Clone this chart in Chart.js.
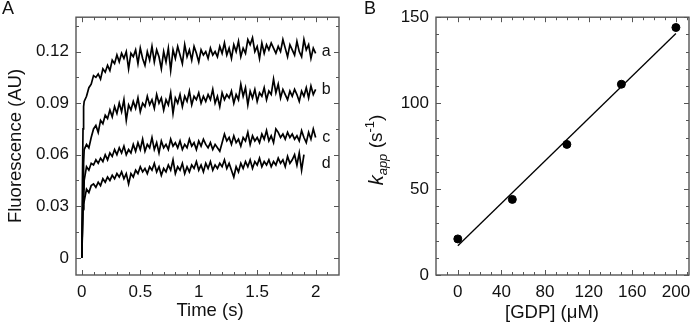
<!DOCTYPE html>
<html>
<head>
<meta charset="utf-8">
<script src="https://cdn.jsdelivr.net/npm/chart.js@4.4.1/dist/chart.umd.min.js"></script>
<style>
  html, body { margin: 0; padding: 0; background: #fff; }
  #wrap { position: relative; width: 700px; height: 325px; }
  canvas { position: absolute; top: 0; }
  #panelA { left: 0; }
  #panelB { left: 350px; }
</style>
</head>
<body>
<div id="wrap">
  <canvas id="panelA" width="350" height="325"></canvas>
  <canvas id="panelB" width="350" height="325"></canvas>
</div>
<script>
// ---- panel A : fluorescence traces ----
const times = [
  0, 0.005, 0.01, 0.015,
  0.02, 0.04, 0.06, 0.08, 0.10, 0.12, 0.14, 0.16, 0.18, 0.20,
  0.22, 0.24, 0.26, 0.28, 0.30, 0.32, 0.34, 0.36, 0.38, 0.40,
  0.42, 0.44, 0.46, 0.48, 0.50, 0.52, 0.54, 0.56, 0.58, 0.60,
  0.62, 0.64, 0.66, 0.68, 0.70, 0.72, 0.74, 0.76, 0.78, 0.80,
  0.82, 0.84, 0.86, 0.88, 0.90, 0.92, 0.94, 0.96, 0.98, 1.00,
  1.02, 1.04, 1.06, 1.08, 1.10, 1.12, 1.14, 1.16, 1.18, 1.20,
  1.22, 1.24, 1.26, 1.28, 1.30, 1.32, 1.34, 1.36, 1.38, 1.40,
  1.42, 1.44, 1.46, 1.48, 1.50, 1.52, 1.54, 1.56, 1.58, 1.60,
  1.62, 1.64, 1.66, 1.68, 1.70, 1.72, 1.74, 1.76, 1.78, 1.80,
  1.82, 1.84, 1.86, 1.88, 1.90, 1.92, 1.94, 1.96, 1.98, 2.00
];

const traceA = [
  0, 0.045, 0.075, 0.088,
  0.091, 0.094, 0.099, 0.101, 0.106, 0.105, 0.107, 0.104, 0.110, 0.108,
  0.112, 0.109, 0.115, 0.113, 0.118, 0.114, 0.119, 0.116, 0.120, 0.110,
  0.119, 0.117, 0.121, 0.113, 0.122, 0.116, 0.112, 0.120, 0.115, 0.123,
  0.114, 0.121, 0.117, 0.110, 0.120, 0.114, 0.122, 0.109, 0.121, 0.116,
  0.123, 0.118, 0.113, 0.124, 0.117, 0.121, 0.115, 0.123, 0.119, 0.114,
  0.121, 0.118, 0.120, 0.116, 0.122, 0.118, 0.120, 0.117, 0.123, 0.119,
  0.125, 0.118, 0.122, 0.116, 0.124, 0.120, 0.126, 0.117, 0.122, 0.119,
  0.127, 0.124, 0.128, 0.120, 0.123, 0.116, 0.125, 0.119, 0.124, 0.121,
  0.125, 0.122, 0.119, 0.123, 0.120, 0.127, 0.122, 0.117, 0.124, 0.121,
  0.118, 0.126, 0.120, 0.117, 0.127, 0.121, 0.124, 0.116, 0.122, 0.119
];

const traceB = [
  0, 0.020, 0.040, 0.055,
  0.063, 0.066, 0.064, 0.070, 0.075, 0.077, 0.073, 0.080, 0.078, 0.083,
  0.081, 0.086, 0.082, 0.088, 0.084, 0.090, 0.085, 0.092, 0.080, 0.089,
  0.086, 0.091, 0.087, 0.093, 0.085, 0.090, 0.088, 0.094, 0.089, 0.092,
  0.087, 0.095, 0.090, 0.093, 0.086, 0.092, 0.089, 0.096, 0.084, 0.093,
  0.090, 0.095, 0.088, 0.094, 0.091, 0.097, 0.089, 0.094, 0.092, 0.096,
  0.090, 0.094, 0.091, 0.095, 0.092, 0.098, 0.090, 0.094, 0.088, 0.096,
  0.092, 0.095, 0.093, 0.097, 0.090, 0.095, 0.092, 0.101, 0.094, 0.099,
  0.089, 0.097, 0.093, 0.098, 0.091, 0.096, 0.094, 0.099, 0.092, 0.097,
  0.095, 0.104, 0.096, 0.101, 0.093, 0.098, 0.095, 0.092, 0.097, 0.094,
  0.098, 0.095, 0.091, 0.097, 0.094, 0.099, 0.093, 0.100, 0.095, 0.098
];

const traceC = [
  0, 0.018, 0.035, 0.028,
  0.045, 0.053, 0.051, 0.055, 0.054, 0.057, 0.055, 0.058, 0.056, 0.060,
  0.057, 0.061, 0.059, 0.063, 0.060, 0.064, 0.061, 0.065, 0.060, 0.063,
  0.061, 0.066, 0.062, 0.067, 0.063, 0.069, 0.062, 0.066, 0.064, 0.070,
  0.063, 0.067, 0.061, 0.068, 0.064, 0.066, 0.063, 0.069, 0.065, 0.067,
  0.064, 0.068, 0.063, 0.066, 0.064, 0.069, 0.065, 0.067, 0.063, 0.068,
  0.065, 0.069, 0.066, 0.064, 0.067, 0.063, 0.066, 0.064, 0.062, 0.067,
  0.072, 0.068, 0.070, 0.066, 0.071, 0.067, 0.069, 0.065, 0.070, 0.068,
  0.073, 0.066, 0.071, 0.068, 0.070, 0.067, 0.072, 0.069, 0.074, 0.068,
  0.071, 0.067, 0.075, 0.073, 0.070, 0.072, 0.069, 0.073, 0.070, 0.072,
  0.069, 0.071, 0.068, 0.074, 0.070, 0.067, 0.073, 0.069, 0.075, 0.070
];

// trace d stops at 1.90 s
const traceD = [
  0, 0.015, 0.028, 0.036,
  0.033, 0.040, 0.038, 0.042, 0.043, 0.041, 0.044, 0.042, 0.046, 0.044,
  0.047, 0.045, 0.048, 0.046, 0.049, 0.047, 0.050, 0.046, 0.049, 0.043,
  0.049, 0.047, 0.051, 0.049, 0.053, 0.050, 0.052, 0.049, 0.053, 0.051,
  0.055, 0.050, 0.053, 0.048, 0.052, 0.050, 0.054, 0.051, 0.057, 0.049,
  0.053, 0.051, 0.055, 0.049, 0.053, 0.050, 0.054, 0.052, 0.056, 0.051,
  0.054, 0.050, 0.055, 0.052, 0.056, 0.051, 0.054, 0.052, 0.055, 0.053,
  0.057, 0.052, 0.055, 0.051, 0.047, 0.053, 0.050, 0.055, 0.052, 0.056,
  0.053, 0.057, 0.052, 0.056, 0.054, 0.058, 0.053, 0.056, 0.054, 0.057,
  0.053, 0.056, 0.054, 0.058, 0.055, 0.057, 0.053, 0.059, 0.055, 0.057,
  0.060, 0.054, 0.061, 0.051, 0.060
];

const traceNames = ['a', 'b', 'c', 'd'];
const traceLabelY = [0.120, 0.098, 0.070, 0.055];

const xTicksA = [0, 0.5, 1, 1.5, 2];
const xLabelsA = ['0', '0.5', '1', '1.5', '2'];
const yTicksA = [0, 0.03, 0.06, 0.09, 0.12];
const yLabelsA = ['0', '0.03', '0.06', '0.09', '0.12'];

// ---- panel B : kapp vs [GDP] ----
const gdp = [0, 50, 100, 150, 200];
const kapp = [21, 44, 76, 111, 144];
const fitX = [0, 200];
const fitY = [17, 140.5];

const xTicksB = [0, 40, 80, 120, 160, 200];
const xLabelsB = ['0', '40', '80', '120', '160', '200'];
const yTicksB = [0, 50, 100, 150];
const yLabelsB = ['0', '50', '100', '150'];

const FONT = '"Liberation Sans", Arial, sans-serif';
const tickFont = { family: FONT, size: 17 };

function minorTicks(min, max, step, majors) {
  const out = [];
  for (let v = min; v <= max + 1e-9; v += step) {
    const r = Math.round(v * 1000) / 1000;
    if (!majors.some(m => Math.abs(m - r) < 1e-9)) out.push(r);
  }
  return out;
}

function drawRich(ctx, cx, cy, parts, rotate) {
  ctx.save();
  ctx.translate(cx, cy);
  if (rotate) ctx.rotate(-Math.PI / 2);
  let w = 0;
  parts.forEach(p => { ctx.font = p.font; w += ctx.measureText(p.t).width; });
  let x = -w / 2;
  ctx.textBaseline = 'middle';
  ctx.textAlign = 'left';
  parts.forEach(p => {
    ctx.font = p.font;
    ctx.fillText(p.t, x, p.dy || 0);
    x += ctx.measureText(p.t).width;
  });
  ctx.restore();
}

const framePlugin = {
  id: 'frame',
  afterDraw(chart, args, o) {
    const { ctx, chartArea: a, scales: { x, y } } = chart;
    ctx.save();
    ctx.strokeStyle = '#555';
    ctx.lineWidth = 1.4;
    ctx.strokeRect(a.left, a.top, a.right - a.left, a.bottom - a.top);
    ctx.lineWidth = 1;
    ctx.beginPath();
    const vTick = (v, len) => {
      const px = Math.round(x.getPixelForValue(v)) + 0.5;
      ctx.moveTo(px, a.bottom); ctx.lineTo(px, a.bottom - len);
      ctx.moveTo(px, a.top); ctx.lineTo(px, a.top + len);
    };
    const hTick = (v, len) => {
      const py = Math.round(y.getPixelForValue(v)) + 0.5;
      ctx.moveTo(a.left, py); ctx.lineTo(a.left + len, py);
      ctx.moveTo(a.right, py); ctx.lineTo(a.right - len, py);
    };
    x.ticks.forEach(t => vTick(t.value, 5));
    o.minorX.forEach(v => vTick(v, 3));
    y.ticks.forEach(t => hTick(t.value, 5));
    o.minorY.forEach(v => hTick(v, 3));
    ctx.stroke();

    ctx.fillStyle = '#111';
    (o.dataTexts || []).forEach(t => {
      ctx.font = t.font;
      ctx.textAlign = 'center';
      ctx.textBaseline = 'middle';
      ctx.fillText(t.text, x.getPixelForValue(t.x), y.getPixelForValue(t.y));
    });
    (o.rich || []).forEach(r => drawRich(ctx, r.x, r.y, r.parts, r.rotate));
    ctx.restore();
  }
};

function axis(min, max, ticks, labels, size, isX) {
  return {
    type: 'linear',
    min: min,
    max: max,
    grid: { display: false, drawTicks: false },
    border: { display: false },
    afterBuildTicks(s) { s.ticks = ticks.map(v => ({ value: v })); },
    afterFit(s) { if (isX) s.height = size; else s.width = size; },
    ticks: {
      autoSkip: false,
      maxRotation: 0,
      color: '#111',
      font: tickFont,
      padding: 7,
      callback: (v, i) => labels[i]
    }
  };
}

const traces = [traceA, traceB, traceC, traceD];

new Chart(document.getElementById('panelA'), {
  type: 'line',
  data: {
    datasets: traces.map((vals, i) => ({
      label: traceNames[i],
      data: vals.map((v, j) => ({ x: times[j], y: v })),
      borderColor: '#000',
      borderWidth: 1.7,
      pointRadius: 0,
      tension: 0,
      fill: false
    }))
  },
  options: {
    responsive: false,
    animation: false,
    devicePixelRatio: 1,
    layout: { padding: { left: 0, right: 11, top: 17, bottom: 0 } },
    scales: {
      x: axis(-0.05, 2.2, xTicksA, xLabelsA, 50, true),
      y: axis(-0.01, 0.14, yTicksA, yLabelsA, 76, false)
    },
    plugins: {
      legend: { display: false },
      tooltip: { enabled: false },
      frame: {
        minorX: minorTicks(0, 2.1, 0.1, xTicksA),
        minorY: minorTicks(0.015, 0.135, 0.015, yTicksA),
        dataTexts: traceNames.map((n, i) => ({
          text: n, x: 2.09, y: traceLabelY[i], font: '16px ' + FONT
        })),
        rich: [
          { x: 8, y: 9, parts: [{ t: 'A', font: '18px ' + FONT }] },
          { x: 16, y: 146, rotate: true, parts: [{ t: 'Fluorescence (AU)', font: '18.5px ' + FONT }] },
          { x: 210, y: 311, parts: [{ t: 'Time (s)', font: '18.5px ' + FONT }] }
        ]
      }
    }
  },
  plugins: [framePlugin]
});

new Chart(document.getElementById('panelB'), {
  type: 'scatter',
  data: {
    datasets: [
      {
        label: 'kapp',
        data: gdp.map((g, i) => ({ x: g, y: kapp[i] })),
        backgroundColor: '#000',
        borderColor: '#000',
        pointRadius: 4,
        showLine: false
      },
      {
        label: 'fit',
        data: fitX.map((g, i) => ({ x: g, y: fitY[i] })),
        borderColor: '#000',
        borderWidth: 1.3,
        pointRadius: 0,
        showLine: true
      }
    ]
  },
  options: {
    responsive: false,
    animation: false,
    devicePixelRatio: 1,
    layout: { padding: { left: 0, right: 11, top: 16, bottom: 0 } },
    scales: {
      x: axis(-20, 212, xTicksB, xLabelsB, 50, true),
      y: axis(0, 150, yTicksB, yLabelsB, 86, false)
    },
    plugins: {
      legend: { display: false },
      tooltip: { enabled: false },
      frame: {
        minorX: minorTicks(-10, 210, 10, xTicksB),
        minorY: minorTicks(10, 140, 10, yTicksB),
        rich: [
          { x: 20, y: 9, parts: [{ t: 'B', font: '18px ' + FONT }] },
          {
            x: 27, y: 150, rotate: true, parts: [
              { t: 'k', font: 'italic 20px ' + FONT },
              { t: 'app', font: 'italic 13px ' + FONT, dy: 6 },
              { t: ' (s', font: '19px ' + FONT },
              { t: '-1', font: '13px ' + FONT, dy: -7 },
              { t: ')', font: '19px ' + FONT }
            ]
          },
          { x: 202, y: 313, parts: [{ t: '[GDP] (\u03bcM)', font: '18.5px ' + FONT }] }
        ]
      }
    }
  },
  plugins: [framePlugin]
});
</script>
</body>
</html>
